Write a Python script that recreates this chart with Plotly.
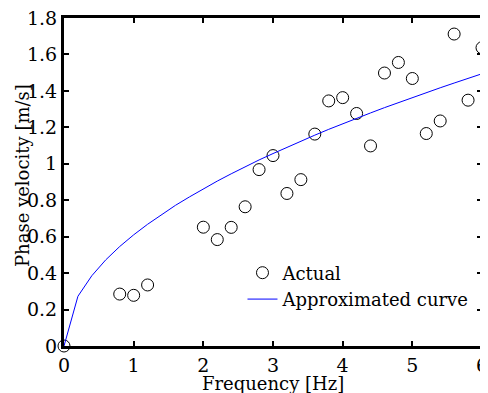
import plotly.graph_objects as go

# Measured data points
freq_actual = [0.0, 0.8, 1.0, 1.2, 2.0, 2.2, 2.4, 2.6, 2.8, 3.0, 3.2, 3.4, 3.6, 3.8,
               4.0, 4.2, 4.4, 4.6, 4.8, 5.0, 5.2, 5.4, 5.6, 5.8, 6.0]
vel_actual = [0.0, 0.285, 0.278, 0.335, 0.652, 0.584, 0.651, 0.764, 0.968, 1.045,
              0.837, 0.913, 1.163, 1.345, 1.363, 1.276, 1.098, 1.498, 1.556, 1.468,
              1.166, 1.235, 1.712, 1.349, 1.637]

# Approximated curve
freq_curve = [0.0, 0.2, 0.4, 0.6, 0.8, 1.0, 1.2, 1.4, 1.6, 1.8, 2.0, 2.2, 2.4, 2.6,
              2.8, 3.0, 3.2, 3.4, 3.6, 3.8, 4.0, 4.2, 4.4, 4.6, 4.8, 5.0, 5.2,
              5.4, 5.6, 5.8, 6.0]
vel_curve = [0.0, 0.273, 0.386, 0.473, 0.546, 0.610, 0.668, 0.722, 0.772, 0.818,
             0.863, 0.905, 0.945, 0.984, 1.021, 1.056, 1.091, 1.125, 1.157, 1.189,
             1.220, 1.250, 1.279, 1.308, 1.336, 1.364, 1.390, 1.417, 1.443, 1.468,
             1.494]

x_ticks = [0, 1, 2, 3, 4, 5, 6]
y_ticks = [0, 0.2, 0.4, 0.6, 0.8, 1.0, 1.2, 1.4, 1.6, 1.8]
y_ticklabels = ["0", "0.2", "0.4", "0.6", "0.8", "1", "1.2", "1.4", "1.6", "1.8"]
x_title = "Frequency [Hz]"
y_title = "Phase velocity [m/s]"

FONT = "DejaVu Serif"
FS = 18

fig = go.Figure()
fig.add_trace(go.Scatter(
    x=freq_actual, y=vel_actual, mode="markers", name="Actual",
    marker=dict(symbol="circle-open", size=12, color="black", line=dict(width=1, color="black")),
    cliponaxis=False,
))
fig.add_trace(go.Scatter(
    x=freq_curve, y=vel_curve, mode="lines", name="Approximated curve",
    line=dict(color="#0000ff", width=1),
))

def axis_style():
    return dict(
        showline=True, linecolor="black", linewidth=3, mirror="ticks",
        ticks="inside", ticklen=5, tickcolor="black", tickwidth=1.5,
        showgrid=False, zeroline=False, automargin=False,
        ticklabeloverflow="allow",
        tickfont=dict(family=FONT, size=FS + 1, color="black"),
    )

# The page body has an 8px margin, so offsets compensate for it.
fig.update_layout(
    width=488, height=393,
    margin=dict(l=56, r=14, t=10, b=55, autoexpand=False),
    paper_bgcolor="white", plot_bgcolor="white",
    font=dict(family=FONT, size=FS, color="black"),
    showlegend=True,
    legend=dict(
        x=0.427, y=0.279, xanchor="left", yanchor="top",
        bgcolor="rgba(0,0,0,0)", borderwidth=0,
        font=dict(family=FONT, size=FS, color="black"),
        tracegroupgap=0, itemwidth=30,
    ),
    xaxis=dict(range=[0, 6], tickvals=x_ticks, ticktext=[str(v) for v in x_ticks],
               **axis_style()),
    yaxis=dict(range=[0, 1.8], tickvals=y_ticks, ticktext=y_ticklabels,
               **axis_style()),
    annotations=[
        dict(text=x_title, xref="paper", yref="paper", x=0.5, y=0, yshift=-37,
             xanchor="center", yanchor="middle", showarrow=False,
             font=dict(family=FONT, size=FS, color="black")),
        dict(text=y_title, xref="paper", yref="paper", x=0, y=0.5, xshift=-42, yshift=6,
             xanchor="center", yanchor="middle", textangle=-90, showarrow=False,
             font=dict(family=FONT, size=FS, color="black")),
    ],
)

fig.write_html("out.html")
